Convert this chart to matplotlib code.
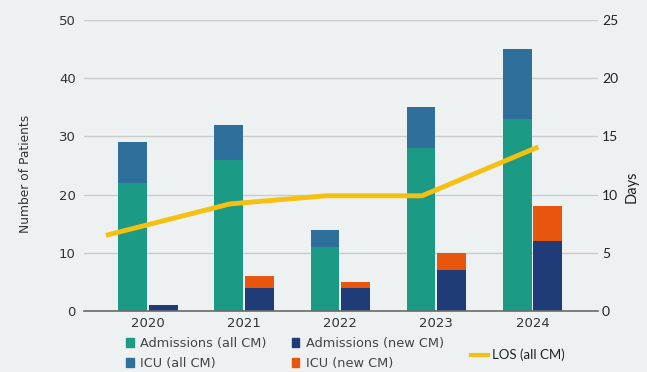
import matplotlib
matplotlib.use("Agg")
import matplotlib.pyplot as plt
from matplotlib.patches import Patch
from matplotlib.lines import Line2D
import numpy as np

years = ["2020", "2021", "2022", "2023", "2024"]
adm_all = [22, 26, 11, 28, 33]
icu_all = [7, 6, 3, 7, 12]
adm_new = [1, 4, 4, 7, 12]
icu_new = [0, 2, 1, 3, 6]
los_all = [6.5, 9.2, 9.9, 9.9, 14.1]
los_x_offset = [-0.44, -0.15, -0.15, -0.15, 0.06]

C_ADM_ALL = "#1b9a86"
C_ICU_ALL = "#2e6f9c"
C_ADM_NEW = "#1f3c78"
C_ICU_NEW = "#e8560e"
C_LOS = "#f5c010"
BG = "#eef1f1"
TXT = "#333333"

fig = plt.figure(figsize=(6.47, 3.72), dpi=100, facecolor=BG)
ax = fig.add_axes([0.130, 0.164, 0.794, 0.782], facecolor=BG)

x = np.arange(len(years))
w = 0.30
ax.bar(x - 0.16, adm_all, w, color=C_ADM_ALL, zorder=2)
ax.bar(x - 0.16, icu_all, w, bottom=adm_all, color=C_ICU_ALL, zorder=2)
ax.bar(x + 0.16, adm_new, w, color=C_ADM_NEW, zorder=2)
ax.bar(x + 0.16, icu_new, w, bottom=adm_new, color=C_ICU_NEW, zorder=2)

ax.set_xlim(-0.667, 4.68)
ax.set_ylim(0, 50)
ax.set_yticks(range(0, 51, 10))
ax.set_xticks(x)
ax.set_xticklabels(years)
ax.grid(axis="y", color="#c9cdcd", linewidth=1.0, zorder=0)
ax.set_axisbelow(True)
for s in ["left", "right", "top"]:
    ax.spines[s].set_visible(False)
ax.spines["bottom"].set_color("#6a6a6a")
ax.spines["bottom"].set_linewidth(1.2)
ax.tick_params(axis="both", length=0, labelsize=9.5, colors=TXT)
ax.tick_params(axis="y", pad=6)
ax.tick_params(axis="x", pad=4)
ax.set_ylabel("Number of Patients", fontsize=8.8, color=TXT)
ax.yaxis.set_label_coords(-0.101, 0.47)

ax2 = ax.twinx()
ax2.set_ylim(0, 25)
ax2.set_yticks(range(0, 26, 5))
for s in ["left", "right", "top", "bottom"]:
    ax2.spines[s].set_visible(False)
ax2.tick_params(axis="y", length=0, labelsize=10, colors="#222222", pad=3)
for lab in ax2.get_yticklabels():
    lab.set_fontfamily("Lato")
ax2.plot(x + np.array(los_x_offset), los_all, color=C_LOS, linewidth=3.5,
         solid_capstyle="butt", zorder=3)
ax2.set_ylabel("Days", fontsize=10.5, family="Lato", color="#222222",
               rotation=90)
ax2.yaxis.set_label_coords(1.052, 0.426)

handles = [Patch(color=C_ADM_ALL), Patch(color=C_ICU_ALL),
           Patch(color=C_ADM_NEW), Patch(color=C_ICU_NEW)]
labels = ["Admissions (all CM)", "ICU (all CM)",
          "Admissions (new CM)", "ICU (new CM)"]
fig.legend(handles, labels, ncol=2, loc="upper left",
           bbox_to_anchor=(120 / 647, 1 - 331 / 372), frameon=False,
           fontsize=9.3, handlelength=0.55, handleheight=0.7,
           handletextpad=0.5, columnspacing=2.0, labelspacing=0.5,
           borderpad=0, labelcolor="#444444")
fig.legend([Line2D([], [], color=C_LOS, linewidth=3)], ["LOS (all CM)"],
           loc="center left", bbox_to_anchor=(464 / 647, 1 - 355 / 372),
           frameon=False, handlelength=1.3, handletextpad=0.3, borderpad=0,
           prop={"family": "Lato", "size": 9.5}, labelcolor="#222222")

fig.savefig("out.png", dpi=100, facecolor=BG)
